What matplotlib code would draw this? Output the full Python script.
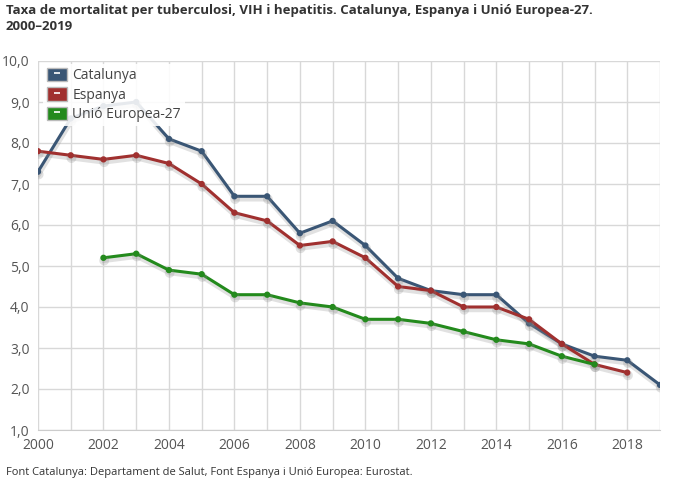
import matplotlib
matplotlib.use("Agg")
import matplotlib.pyplot as plt
import matplotlib.patheffects as pe
from matplotlib.lines import Line2D
from matplotlib.patches import Patch
from matplotlib.legend_handler import HandlerTuple

years = list(range(2000, 2020))
catalunya = [7.3, 8.6, 8.9, 9.0, 8.1, 7.8, 6.7, 6.7, 5.8, 6.1, 5.5, 4.7, 4.4, 4.3, 4.3, 3.6, 3.1, 2.8, 2.7, 2.1]
espanya_years = list(range(2000, 2019))
espanya = [7.8, 7.7, 7.6, 7.7, 7.5, 7.0, 6.3, 6.1, 5.5, 5.6, 5.2, 4.5, 4.4, 4.0, 4.0, 3.7, 3.1, 2.6, 2.4]
eu_years = list(range(2002, 2018))
eu = [5.2, 5.3, 4.9, 4.8, 4.3, 4.3, 4.1, 4.0, 3.7, 3.7, 3.6, 3.4, 3.2, 3.1, 2.8, 2.6]

series = [
    ("Catalunya", years, catalunya, "#3a5675"),
    ("Espanya", espanya_years, espanya, "#a0302f"),
    ("Unió Europea-27", eu_years, eu, "#238a1c"),
]

plt.rcParams['font.family'] = ['Open Sans', 'DejaVu Sans']
fig = plt.figure(figsize=(6.79, 4.97), dpi=100)
ax = fig.add_axes([38/679, 1 - 430/497, (660-38)/679, (430-61)/497])

shadow = [pe.SimpleLineShadow(offset=(0.5, -2), shadow_color='#888888', alpha=0.25, linewidth=3.5), pe.Normal()]
for name, xs, ys, c in series:
    ax.plot(xs, ys, color=c, lw=2.2, marker='o', ms=3.5, path_effects=shadow, zorder=3)

ax.set_xlim(2000, 2019)
ax.set_ylim(1, 10)
ax.set_xticks(range(2000, 2020), minor=False)
ax.set_xticklabels([str(y) if y % 2 == 0 else "" for y in range(2000, 2020)])
ax.set_yticks([i for i in range(1, 11)])
ax.set_yticklabels([f"{i},0" for i in range(1, 11)])
ax.grid(True, color='#d8d8d8', lw=1)
ax.set_axisbelow(True)
for s in ax.spines.values():
    s.set_visible(False)
ax.spines['bottom'].set_visible(True)
ax.spines['bottom'].set_color('#cccccc')
ax.tick_params(axis='both', length=0, labelsize=10, colors='#555555', pad=6)

handles = [(Patch(facecolor=c, edgecolor='#bbbbbb'),
            Line2D([], [], color='white', marker='_', ms=4, mew=1.2, ls='none'))
           for n, _, _, c in series]
labels = [n for n, _, _, c in series]
leg = ax.legend(handles=handles, labels=labels, loc='upper left', bbox_to_anchor=(-0.003, 1.012),
                frameon=True, facecolor='white', edgecolor='none', framealpha=0.88, fancybox=False,
                fontsize=10, handlelength=1.4, handleheight=1.1, labelspacing=0.3, handletextpad=0.4,
                borderpad=0.3, handler_map={tuple: HandlerTuple(ndivide=1)})
leg.set_zorder(5)
for t in leg.get_texts():
    t.set_color('#444444')

fig.text(6/679, 1 - 4/497, "Taxa de mortalitat per tuberculosi, VIH i hepatitis. Catalunya, Espanya i Unió Europea-27.\n2000–2019",
         fontsize=9.5, fontweight='bold', color='#333333', va='top', ha='left', linespacing=1.3)
fig.text(6/679, 1 - 472/497, "Font Catalunya: Departament de Salut, Font Espanya i Unió Europea: Eurostat.",
         fontsize=8, color='#333333', va='center', ha='left')

fig.savefig("out.png", dpi=100)
